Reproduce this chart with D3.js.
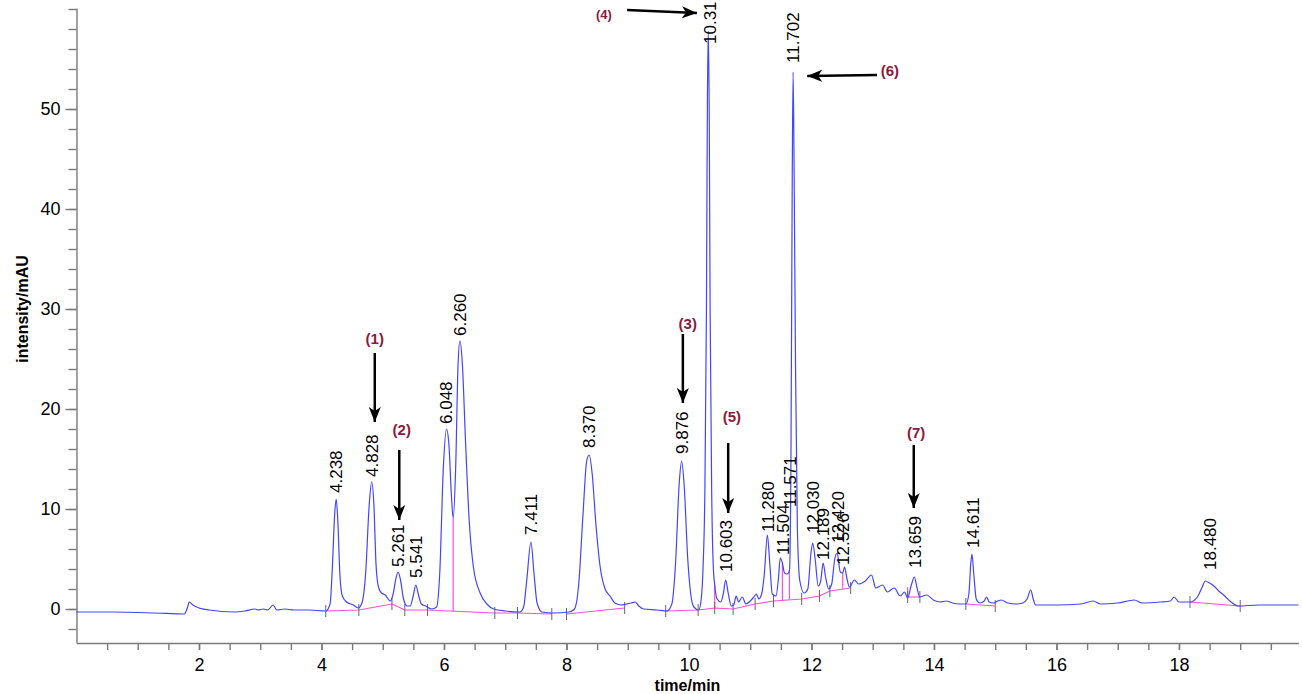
<!DOCTYPE html>
<html>
<head>
<meta charset="utf-8">
<script src="https://cdn.jsdelivr.net/npm/d3@7"></script>
<style>
  body { margin: 0; background: #fff; }
  text { font-family: "Liberation Sans", Arial, sans-serif; }
</style>
</head>
<body>
<div id="container"></div>
<script>
// chromatogram trace, [time/min, intensity/mAU]
const trace = [
  [0.00,-0.3],[0.6,-0.3],[1.29,-0.4],[1.76,-0.5],[1.81,0.1],[1.84,0.7],[1.9,0.4],[2.0,0.1],[2.17,-0.1],
  [2.58,-0.3],[2.75,-0.2],[2.91,0.0],[2.97,-0.1],[3.05,0.0],[3.12,-0.1],[3.21,0.4],[3.27,-0.1],[3.4,0.0],
  [3.55,-0.1],[3.8,-0.1],[4.07,-0.2],
  [4.14,0.5],[4.18,4.5],[4.215,9.5],[4.24,11.0],[4.265,9.0],[4.3,3.5],[4.34,1.3],[4.41,0.7],[4.52,0.4],[4.6,0.1],
  [4.66,0.6],[4.72,3.5],[4.78,10.5],[4.82,12.7],[4.855,10.5],[4.89,4.5],[4.93,2.2],[4.98,1.6],[5.04,1.4],[5.12,0.8],
  [5.17,1.5],[5.21,2.9],[5.25,3.7],[5.29,2.9],[5.34,1.0],[5.40,0.3],[5.45,0.3],
  [5.5,1.4],[5.54,2.4],[5.58,1.5],[5.63,0.5],[5.7,0.3],[5.8,0.0],
  [5.88,0.2],[5.93,3.5],[5.99,14.2],[6.04,18.0],[6.08,16.5],[6.12,11.5],[6.15,9.1],[6.19,14],[6.23,24.5],
  [6.26,26.8],[6.3,24.5],[6.35,17],[6.41,9],[6.48,4.2],[6.59,1.6],[6.7,0.5],[6.81,0.0],[7.0,-0.2],[7.24,-0.3],
  [7.3,0.2],[7.35,2.8],[7.42,6.7],[7.47,3.5],[7.52,0.6],[7.6,-0.3],[7.8,-0.4],[8.04,-0.3],
  [8.13,0.0],[8.2,2.5],[8.27,9.5],[8.33,14.8],[8.37,15.4],[8.42,13.5],[8.48,8.5],[8.55,4.2],[8.63,2.0],
  [8.71,1.3],[8.79,0.6],[8.9,0.4],[8.98,0.5],[9.06,0.6],[9.12,0.7],[9.18,0.3],[9.26,0.0],[9.48,-0.1],[9.64,-0.2],
  [9.72,0.5],[9.78,4.5],[9.84,12.5],[9.88,14.8],[9.92,12.5],[9.98,5],[10.04,1.0],[10.08,0.2],[10.16,-0.1],
  [10.2,1.0],[10.23,4.2],[10.26,12],[10.285,30],[10.30,50],[10.315,57.8],[10.33,50],[10.345,30],[10.37,12],
  [10.395,4.5],[10.42,2.4],[10.46,1.0],[10.52,0.7],[10.56,1.5],[10.60,2.9],[10.64,1.6],[10.69,0.3],[10.73,0.4],
  [10.77,1.3],[10.81,0.7],[10.87,1.2],[10.93,0.5],[11.0,0.8],[11.06,1.2],[11.1,1.5],[11.14,1.0],[11.19,1.6],
  [11.23,3.5],[11.28,7.4],[11.32,4.5],[11.36,1.5],[11.42,1.3],[11.46,3.0],[11.49,5.1],[11.525,4.6],[11.56,3.6],
  [11.60,3.5],[11.64,3.8],[11.665,15],[11.685,42],[11.70,53.7],[11.715,45],[11.74,24],[11.77,8],[11.81,2.8],
  [11.88,1.6],[11.94,2.0],[11.99,5.5],[12.02,6.6],[12.06,5],[12.11,2.3],[12.15,2.8],[12.19,4.6],[12.23,3.2],
  [12.28,2.0],[12.33,2.5],[12.38,5.0],[12.42,5.6],[12.47,3.7],[12.51,3.6],[12.54,4.2],[12.58,3.0],[12.62,2.2],
  [12.7,2.9],[12.77,2.5],[12.88,2.8],[12.98,3.4],[13.05,2.1],[13.16,2.4],[13.24,1.7],[13.35,2.1],[13.45,1.3],
  [13.52,1.7],[13.57,1.1],[13.63,2.4],[13.68,3.2],[13.72,2.2],[13.77,1.2],[13.88,1.4],[13.99,0.9],[14.1,0.7],
  [14.2,0.8],[14.3,0.6],[14.42,0.5],[14.52,0.5],
  [14.57,1.5],[14.6,4.5],[14.62,5.5],[14.65,3.5],[14.69,1.0],[14.75,0.6],[14.82,0.8],[14.86,1.2],[14.9,0.7],
  [14.97,0.6],[15.04,0.8],[15.1,0.9],[15.2,0.6],[15.35,0.5],[15.45,0.6],[15.52,1.0],[15.58,1.9],[15.62,1.0],
  [15.66,0.4],[16.0,0.4],[16.4,0.5],[16.6,0.8],[16.72,0.5],[17.0,0.6],[17.27,0.9],[17.4,0.6],[17.7,0.7],
  [17.86,0.8],[17.92,1.2],[18.0,0.7],[18.18,0.7],[18.3,1.2],[18.38,2.2],[18.43,2.8],[18.5,2.6],[18.57,2.3],
  [18.65,1.8],[18.73,1.4],[18.85,0.7],[18.97,0.3],[19.3,0.4],[19.6,0.4],[19.95,0.4]
];

// integration baselines (pink), one array per segment
const baselines = [
  [[4.07,-0.2],[4.61,-0.1],[5.15,0.5],[5.36,-0.1],[5.73,-0.1],[6.83,-0.4],[7.2,-0.4],[7.76,-0.5]],
  [[8.0,-0.5],[8.95,0.1]],
  [[9.62,-0.2],[10.15,-0.1],[10.42,0.1],[10.72,0.0],[11.08,0.5],[11.38,0.8],[11.84,1.0],[12.13,1.3],[12.30,1.8],[12.64,2.1]],
  [[13.57,1.2],[13.77,1.2]],
  [[14.52,0.5],[15.0,0.3]],
  [[18.18,0.7],[19.0,0.3]]
];

// drop lines: [time, from, to]
const drops = [
  [6.15,-0.2,9.1],[10.42,0.1,2.4],[11.525,0.85,4.6],[11.64,0.95,3.8],[12.51,2.05,3.6],[13.57,1.2,2.2]
];

// peak labels: text, time of label, intensity where the label starts
const peakNames  = ["4.238","4.828","5.261","5.541","6.048","6.260","7.411","8.370","9.876","10.31","10.603",
                    "11.280","11.504","11.571","11.702","12.030","12.189","12.420","12.526","13.659","14.611","18.480"];
const peakTimes  = [4.237,4.826,5.25,5.54,6.03,6.26,7.42,8.37,9.885,10.34,10.60,
                    11.29,11.53,11.65,11.70,12.02,12.19,12.43,12.51,13.69,14.64,18.51];
const peakLevels = [11.6,13.2,4.2,3.1,18.5,27.3,7.4,16.1,15.5,56.5,3.7,
                    7.7,5.4,10.2,54.6,7.6,4.9,6.6,4.4,4.1,6.1,3.9];

// numbered compounds: label, text pos (t, v), arrow from (t, v) to (t, v)
const compounds = [
  ["(1)", 4.87, 27.0, 4.87, 25.6, 4.87, 18.7],
  ["(2)", 5.31, 17.9, 5.27, 15.9, 5.27, 8.9],
  ["(3)", 9.98, 28.5, 9.90, 27.5, 9.90, 20.6],
  ["(4)", 8.61, 59.5, 8.99, 59.9, 10.13, 59.6],
  ["(5)", 10.70, 19.2, 10.64, 16.6, 10.64, 9.6],
  ["(6)", 13.28, 53.8, 13.07, 53.4, 11.93, 53.3],
  ["(7)", 13.71, 17.6, 13.67, 16.4, 13.67, 10.1]
];

const xMajor = [2, 4, 6, 8, 10, 12, 14, 16, 18];
const yMajor = [0, 10, 20, 30, 40, 50];

const width = 1302,
      height = 694,
      margin = { top: 8, bottom: 51, left: 76.5, right: 3.6 };

const svg = d3.select("#container").append("svg")
    .attr("width", width)
    .attr("height", height)
    .style("display", "block");

const x = d3.scaleLinear()
    .domain([0, 19.95])
    .range([margin.left, width - margin.right]);

const y = d3.scaleLinear()
    .domain([-3.4, 60.1])
    .range([height - margin.bottom, margin.top]);

const axisColor = "#7a7a7a";

function styleAxis(g) {
    g.selectAll("path, line").attr("stroke", axisColor).attr("stroke-width", 1.4);
    g.selectAll("text").attr("fill", "#000").style("font-size", "18px");
}

// minor ticks
svg.append("g")
    .attr("transform", `translate(0, ${height - margin.bottom})`)
    .call(d3.axisBottom(x).tickValues(d3.range(0.5, 19.9, 0.5)).tickSize(7).tickSizeOuter(0).tickFormat(""))
    .call(styleAxis);

svg.append("g")
    .attr("transform", `translate(${margin.left}, 0)`)
    .call(d3.axisLeft(y).tickValues(d3.range(-2, 61, 2)).tickSize(8).tickSizeOuter(0).tickFormat(""))
    .call(styleAxis);

// major ticks
svg.append("g")
    .attr("transform", `translate(0, ${height - margin.bottom})`)
    .call(d3.axisBottom(x).tickValues(xMajor).tickSize(7).tickSizeOuter(0).tickPadding(8))
    .call(styleAxis)
    .call(g => g.select(".domain").remove());

svg.append("g")
    .attr("transform", `translate(${margin.left}, 0)`)
    .call(d3.axisLeft(y).tickValues(yMajor).tickSize(11).tickSizeOuter(0).tickPadding(5))
    .call(styleAxis)
    .call(g => g.select(".domain").remove());

// axis titles
svg.append("text")
    .attr("transform", `translate(${(margin.left + width - margin.right) / 2}, ${height - 3})`)
    .attr("text-anchor", "middle")
    .style("font-size", "16px")
    .style("font-weight", "bold")
    .text("time/min");

svg.append("text")
    .attr("transform", `translate(22, ${y(30)}) rotate(-90)`)
    .attr("text-anchor", "middle")
    .attr("dy", "0.35em")
    .style("font-size", "16px")
    .style("font-weight", "bold")
    .text("intensity/mAU");

const line = d3.line()
    .x(d => x(d[0]))
    .y(d => y(d[1]))
    .curve(d3.curveMonotoneX);

// pink integration baselines
svg.append("g").selectAll("path")
    .data(baselines)
    .enter().append("path")
    .attr("d", d3.line().x(d => x(d[0])).y(d => y(d[1])))
    .attr("fill", "none")
    .attr("stroke", "#ff4fd8")
    .attr("stroke-width", 1.2);

svg.append("g").selectAll("line")
    .data(drops)
    .enter().append("line")
    .attr("x1", d => x(d[0])).attr("x2", d => x(d[0]))
    .attr("y1", d => y(d[1])).attr("y2", d => y(d[2]))
    .attr("stroke", "#ff4fd8")
    .attr("stroke-width", 1.2);

// peak start / end markers
svg.append("g").selectAll("line")
    .data(baselines.flat())
    .enter().append("line")
    .attr("x1", d => x(d[0])).attr("x2", d => x(d[0]))
    .attr("y1", d => y(d[1]) - 6).attr("y2", d => y(d[1]) + 6)
    .attr("stroke", "#666")
    .attr("stroke-width", 1);

// signal
svg.append("path")
    .datum(trace)
    .attr("d", line)
    .attr("fill", "none")
    .attr("stroke", "#4444ff")
    .attr("stroke-width", 1.2);

// retention time labels
svg.append("g").selectAll("text")
    .data(peakNames)
    .enter().append("text")
    .attr("transform", (d, i) => `translate(${x(peakTimes[i])}, ${y(peakLevels[i])}) rotate(-90)`)
    .attr("dy", "0.35em")
    .style("font-size", "17px")
    .attr("fill", "#000")
    .text(d => d);

// arrows to the numbered compounds
svg.append("defs").append("marker")
    .attr("id", "head")
    .attr("markerUnits", "userSpaceOnUse")
    .attr("markerWidth", 18).attr("markerHeight", 14)
    .attr("refX", 15).attr("refY", 7)
    .attr("orient", "auto")
    .append("path")
    .attr("d", "M0,1 L15,7 L0,13 L4,7 Z")
    .attr("fill", "#000");

const comp = svg.append("g");

comp.selectAll("line")
    .data(compounds)
    .enter().append("line")
    .attr("x1", d => x(d[3])).attr("y1", d => y(d[4]))
    .attr("x2", d => x(d[5])).attr("y2", d => y(d[6]))
    .attr("stroke", "#000")
    .attr("stroke-width", 2.5)
    .attr("marker-end", "url(#head)");

comp.selectAll("text")
    .data(compounds)
    .enter().append("text")
    .attr("x", d => x(d[1]))
    .attr("y", d => y(d[2]))
    .attr("dy", "0.35em")
    .attr("text-anchor", "middle")
    .attr("fill", "#8b1a3c")
    .style("font-size", d => d[0] == "(4)" ? "13px" : "15px")
    .style("font-weight", "bold")
    .text(d => d[0]);
</script>
</body>
</html>
